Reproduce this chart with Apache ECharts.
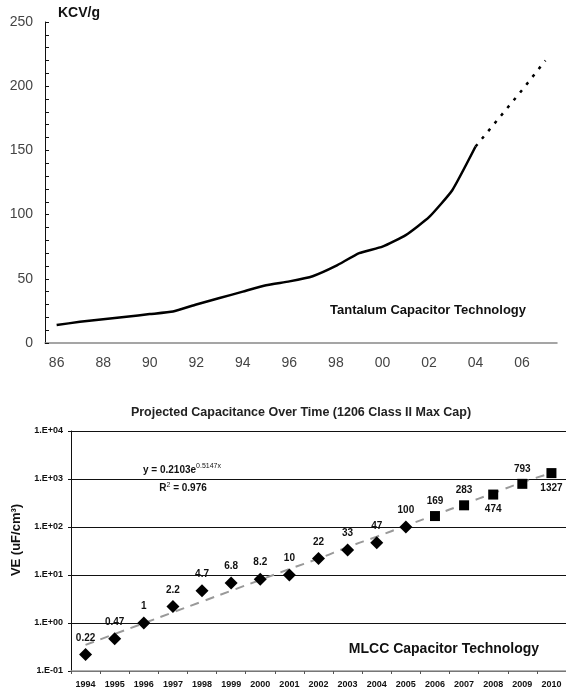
<!DOCTYPE html>
<html>
<head>
<meta charset="utf-8">
<script src="https://cdn.jsdelivr.net/npm/echarts@6/dist/echarts.min.js"></script>
<style>
html, body { margin: 0; padding: 0; background: #fff; }
#chart { width: 566px; height: 692px; }
</style>
</head>
<body>
<div id="chart"></div>
<script>
// tantalum: KCV/g per year (solid = actual, dotted = projected)
var taYears = ['86', '87', '88', '89', '90', '91', '92', '93', '94', '95', '96',
  '97', '98', '99', '00', '01', '02', '03', '04', '05', '06', '07']
var taActual = [14, 16.5, 18.5, 20.5, 22.5, 24.5, 30, 35, 40, 45, 48,
  52, 60, 70, 75, 84, 98, 119, 153, null, null, null]
var taProjected = [null, null, null, null, null, null, null, null, null, null, null,
  null, null, null, null, null, null, null, 153, 175, 197, 220]

// mlcc: volumetric efficiency uF/cm3, log scale
var mlccYears = ['1994', '1995', '1996', '1997', '1998', '1999', '2000', '2001', '2002',
  '2003', '2004', '2005', '2006', '2007', '2008', '2009', '2010']
var mlccMeasured = [0.22, 0.47, 1, 2.2, 4.7, 6.8, 8.2, 10, 22, 33, 47, 100,
  null, null, null, null, null]
var mlccProjected = [null, null, null, null, null, null, null, null, null, null, null, null,
  169, 283, 474, 793, 1327]
// exponential trend line
var mlccTrend = [0.35, 0.59, 0.99, 1.67, 2.8, 4.7, 7.9, 13.3, 22, 38, 63, 106,
  178, 300, 505, 850, 1330]
var labelsBelow = ['2008', '2010']

var FONT = 'Arial, "Liberation Sans", sans-serif'

function pointData(values) {
  return values.map(function(v, i) {
    if (v == null) return '-'
    var item = { value: v }
    if (labelsBelow.indexOf(mlccYears[i]) >= 0) {
      item.label = { position: 'bottom' }
    }
    return item
  })
}

function sciLabel(v) {
  var e = Math.round(Math.log10(v))
  var a = Math.abs(e)
  return '1.E' + (e < 0 ? '-' : '+') + (a < 10 ? '0' : '') + a
}

var myChart = echarts.init(document.getElementById('chart'))

var pointLabel = {
  show: true,
  position: 'top',
  distance: 5,
  fontFamily: FONT,
  fontWeight: 'bold',
  fontSize: 10,
  color: '#111'
}

var option = {
  animation: false,
  backgroundColor: '#fff',
  textStyle: { fontFamily: FONT },
  grid: [
    { left: 45, right: 9, top: 22, height: 321 },
    { left: 71, right: 0, top: 431, height: 240 }
  ],
  xAxis: [
    {
      gridIndex: 0,
      type: 'category',
      data: taYears,
      boundaryGap: true,
      axisLine: { lineStyle: { color: '#888', width: 1.5 }},
      axisTick: { show: false },
      axisLabel: { interval: 1, margin: 13, fontSize: 14, color: '#444', fontFamily: FONT }
    },
    {
      gridIndex: 1,
      type: 'category',
      data: mlccYears,
      boundaryGap: true,
      z: 5,
      axisLine: { lineStyle: { color: '#999', width: 1.5 }},
      axisTick: { show: true, length: 3, lineStyle: { color: '#555' }},
      axisLabel: { interval: 0, margin: 9, fontSize: 9, fontWeight: 'bold', color: '#111', fontFamily: FONT }
    }
  ],
  yAxis: [
    {
      gridIndex: 0,
      type: 'value',
      min: 0,
      max: 250,
      interval: 50,
      axisLine: { show: true, lineStyle: { color: '#111', width: 1 }},
      axisTick: { show: true, inside: true, length: 4, lineStyle: { color: '#111' }},
      minorTick: { show: true, splitNumber: 5, length: 4, lineStyle: { color: '#111' }},
      splitLine: { show: false },
      axisLabel: { margin: 12, fontSize: 14, color: '#444', fontFamily: FONT }
    },
    {
      gridIndex: 1,
      type: 'log',
      logBase: 10,
      min: 0.1,
      max: 10000,
      axisLine: { show: true, lineStyle: { color: '#111', width: 1 }},
      axisTick: { show: true, length: 3, lineStyle: { color: '#111' }},
      splitLine: { show: true, lineStyle: { color: '#111', width: 1 }},
      axisLabel: { margin: 8, fontSize: 9, fontWeight: 'bold', color: '#111', fontFamily: FONT, formatter: sciLabel }
    }
  ],
  series: [
    {
      name: 'Tantalum',
      type: 'line',
      xAxisIndex: 0,
      yAxisIndex: 0,
      data: taActual,
      smooth: 0.15,
      symbol: 'none',
      lineStyle: { color: '#000', width: 2.5 }
    },
    {
      name: 'Tantalum projected',
      type: 'line',
      xAxisIndex: 0,
      yAxisIndex: 0,
      data: taProjected,
      symbol: 'none',
      lineStyle: { color: '#000', width: 2.5, type: [3, 7] }
    },
    {
      name: 'Trend',
      type: 'line',
      xAxisIndex: 1,
      yAxisIndex: 1,
      data: mlccTrend,
      smooth: true,
      symbol: 'none',
      z: 1,
      lineStyle: { color: '#999', width: 2, type: [9, 7] }
    },
    {
      name: 'MLCC',
      type: 'scatter',
      xAxisIndex: 1,
      yAxisIndex: 1,
      data: pointData(mlccMeasured),
      symbol: 'diamond',
      symbolSize: [13, 13],
      itemStyle: { color: '#000', opacity: 1 },
      label: pointLabel,
      z: 3
    },
    {
      name: 'MLCC projected',
      type: 'scatter',
      xAxisIndex: 1,
      yAxisIndex: 1,
      data: pointData(mlccProjected),
      symbol: 'rect',
      symbolSize: [10, 10],
      itemStyle: { color: '#000', opacity: 1 },
      label: pointLabel,
      z: 3
    }
  ],
  graphic: [
    {
      type: 'text', left: 58, top: 6,
      style: { text: 'KCV/g', font: 'bold 14px ' + FONT, fill: '#111' }
    },
    {
      type: 'text', x: 428, y: 310,
      style: { text: 'Tantalum Capacitor Technology', font: 'bold 13px ' + FONT, fill: '#111', align: 'center', verticalAlign: 'middle' }
    },
    {
      type: 'text', x: 301, y: 413,
      style: { text: 'Projected Capacitance Over Time (1206 Class II Max Cap)', font: 'bold 12.5px ' + FONT, fill: '#222', align: 'center', verticalAlign: 'middle' }
    },
    {
      type: 'text', x: 16, y: 540, rotation: Math.PI / 2,
      style: { text: 'VE (uF/cm³)', font: 'bold 13px ' + FONT, fill: '#111', align: 'center', verticalAlign: 'middle' }
    },
    {
      type: 'text', x: 182, y: 470,
      style: {
        text: 'y = 0.2103e{sup|0.5147x}',
        font: 'bold 10px ' + FONT,
        fill: '#111',
        align: 'center',
        verticalAlign: 'middle',
        rich: { sup: { fontSize: 7, fontWeight: 'normal', fill: '#111', padding: [0, 0, 7, 0] }}
      }
    },
    {
      type: 'text', x: 183, y: 488,
      style: {
        text: 'R{sup|2} = 0.976',
        font: 'bold 10px ' + FONT,
        fill: '#111',
        align: 'center',
        verticalAlign: 'middle',
        rich: { sup: { fontSize: 7, fontWeight: 'normal', fill: '#111', padding: [0, 0, 6, 0] }}
      }
    },
    {
      type: 'text', x: 444, y: 649,
      style: { text: 'MLCC Capacitor Technology', font: 'bold 14px ' + FONT, fill: '#111', align: 'center', verticalAlign: 'middle' }
    }
  ]
}

myChart.setOption(option)
</script>
</body>
</html>
